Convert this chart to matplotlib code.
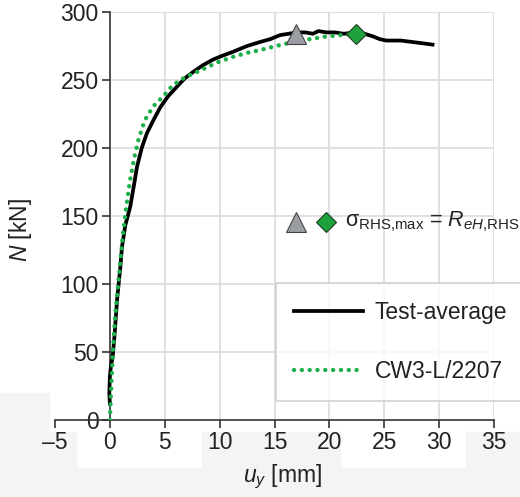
import numpy as np
import matplotlib
matplotlib.use("Agg")
import matplotlib.pyplot as plt
from matplotlib.patches import Rectangle

plt.rcParams['font.family'] = ['Liberation Sans', 'DejaVu Sans']
plt.rcParams['mathtext.fontset'] = 'custom'
plt.rcParams['mathtext.rm'] = 'Liberation Sans'
plt.rcParams['mathtext.it'] = 'Liberation Sans:italic'

# test average curve
test_u = [0.0, -0.05, 0.0, 0.1, 0.25, 0.45, 0.65, 0.95, 1.1, 1.4, 1.86, 2.2, 2.47, 2.9,
          3.38, 4.0, 4.6, 5.3, 6.1, 6.8, 7.6, 8.5, 9.4, 10.3, 11.3, 12.5, 13.7, 14.6,
          15.5, 16.3, 17.0, 17.8, 18.5, 19.0, 19.7, 20.5, 21.3, 22.4, 23.2, 24.0,
          24.6, 25.2, 26.5, 27.5, 28.5, 29.4]
test_N = [12, 20, 32, 40, 46, 65, 88, 112, 127, 143, 157, 173, 186, 200,
          211, 221, 230, 238, 245, 251, 256, 261, 265, 268, 271, 275, 278, 280,
          283, 284, 285, 285, 284, 286, 285, 285, 284, 285, 284, 282,
          280, 279, 279, 278, 277, 276]

# CW3-L/2207 model curve
cw_u = [0, 0.1, 0.3, 0.5, 0.76, 1.0, 1.2, 1.5, 1.83, 2.2, 2.6, 3.0, 3.35, 4.0, 4.86,
        5.6, 6.4, 7.4, 8.5, 9.8, 11.2, 12.5, 13.7, 14.9, 16.7, 18.2, 19.7, 21.0, 22.4]
cw_N = [0, 20, 54, 78, 100, 120, 137, 157, 176, 192, 206, 216, 223, 231, 238,
        245, 250, 254, 258, 263, 267, 270, 272, 274.5, 278, 280, 282, 283, 284]

# sigma_RHS,max = R_eH,RHS points
tri_u, tri_N = 17.0, 284
dia_u, dia_N = 22.4, 283.6

xticks = [-5, 0, 5, 10, 15, 20, 25, 30, 35]
yticks = [0, 50, 100, 150, 200, 250, 300]

W, H = 520, 497
fig = plt.figure(figsize=(W/100, H/100), dpi=100)

# light grey patches in the lower part of the image
grey = '#f4f4f4'
for x0, y0, x1, y1 in [(0, 393, 49, 497), (0, 468, 520, 497), (0, 432, 76, 497),
                       (202, 432, 340, 497), (466, 432, 520, 497)]:
    fig.patches.append(Rectangle((x0/W, 1-y1/H), (x1-x0)/W, (y1-y0)/H,
                                 transform=fig.transFigure, color=grey, zorder=-10))

ax = fig.add_axes([55/W, 1-420/H, (494-55)/W, (420-12)/H])
ax.patch.set_alpha(0)
ax.set_xlim(-5, 35)
ax.set_ylim(0, 300)

gc = '#dcdde0'
ax.vlines(xticks[2:], 0, 300, color=gc, lw=1.3, zorder=0)
ax.hlines(yticks[1:], 0, 35, color=gc, lw=1.3, zorder=0)

ax.plot(test_u, test_N, color='black', lw=2.7, label='Test-average', zorder=3)
ax.plot(cw_u, cw_N, color='#1db04a', lw=3.2, linestyle=(0, (0.01, 1.75)),
        dash_capstyle='round', label='CW3-L/2207', zorder=4)

ax.plot(tri_u, tri_N, marker='^', ms=14, mfc='#9a9ea3', mec='#444444', mew=0.8, zorder=5)
ax.plot(dia_u, dia_N, marker='D', ms=10.5, mfc='#1fa23e', mec='#1d3b20', mew=0.8, zorder=5)

# annotation inside the plot
ax.plot(17.0, 145.5, marker='^', ms=14, mfc='#9a9ea3', mec='#444444', mew=0.8, clip_on=False)
ax.plot(19.7, 145.5, marker='D', ms=10.5, mfc='#1fa23e', mec='#1d3b20', mew=0.8, clip_on=False)
fig.text(345/W, 1-222/H, r'σ$_{\mathrm{RHS{,}max}}$ = $R_{eH{,}\mathrm{RHS}}$', fontsize=15.5,
         va='center', ha='left', color='#222222')

for s in ['top', 'right']:
    ax.spines[s].set_visible(False)
ax.spines['left'].set_position(('data', 0))
for s in ['left', 'bottom']:
    ax.spines[s].set_color('#333333')
    ax.spines[s].set_linewidth(1.2)

ax.set_xticks(xticks)
ax.set_yticks(yticks)
ax.set_xticklabels(['\u20135' if v < 0 else str(v) for v in xticks])
ax.tick_params(direction='out', length=6, width=1.2, color='#333333',
               labelsize=16.5, labelcolor='#222222', pad=2)

fig.text(20/W, 1-230/H, r'$N$ [kN]', rotation=90, fontsize=16.5, ha='center', va='center',
         color='#222222')
fig.text(282/W, 1-477/H, r'$u_y$ [mm]', fontsize=16.5, ha='center', va='center',
         color='#222222')

leg = fig.legend(loc='upper left', bbox_to_anchor=(276/W, 1-283/H), fontsize=16.5,
                 frameon=True, fancybox=False, handlelength=3.0, labelspacing=1.55,
                 borderpad=0.8, borderaxespad=0, handletextpad=0.5)
leg.get_frame().set_edgecolor('#c8c8c8')
leg.get_frame().set_linewidth(1.2)
for t in leg.get_texts():
    t.set_color('#222222')

fig.savefig('out.png', dpi=100)
